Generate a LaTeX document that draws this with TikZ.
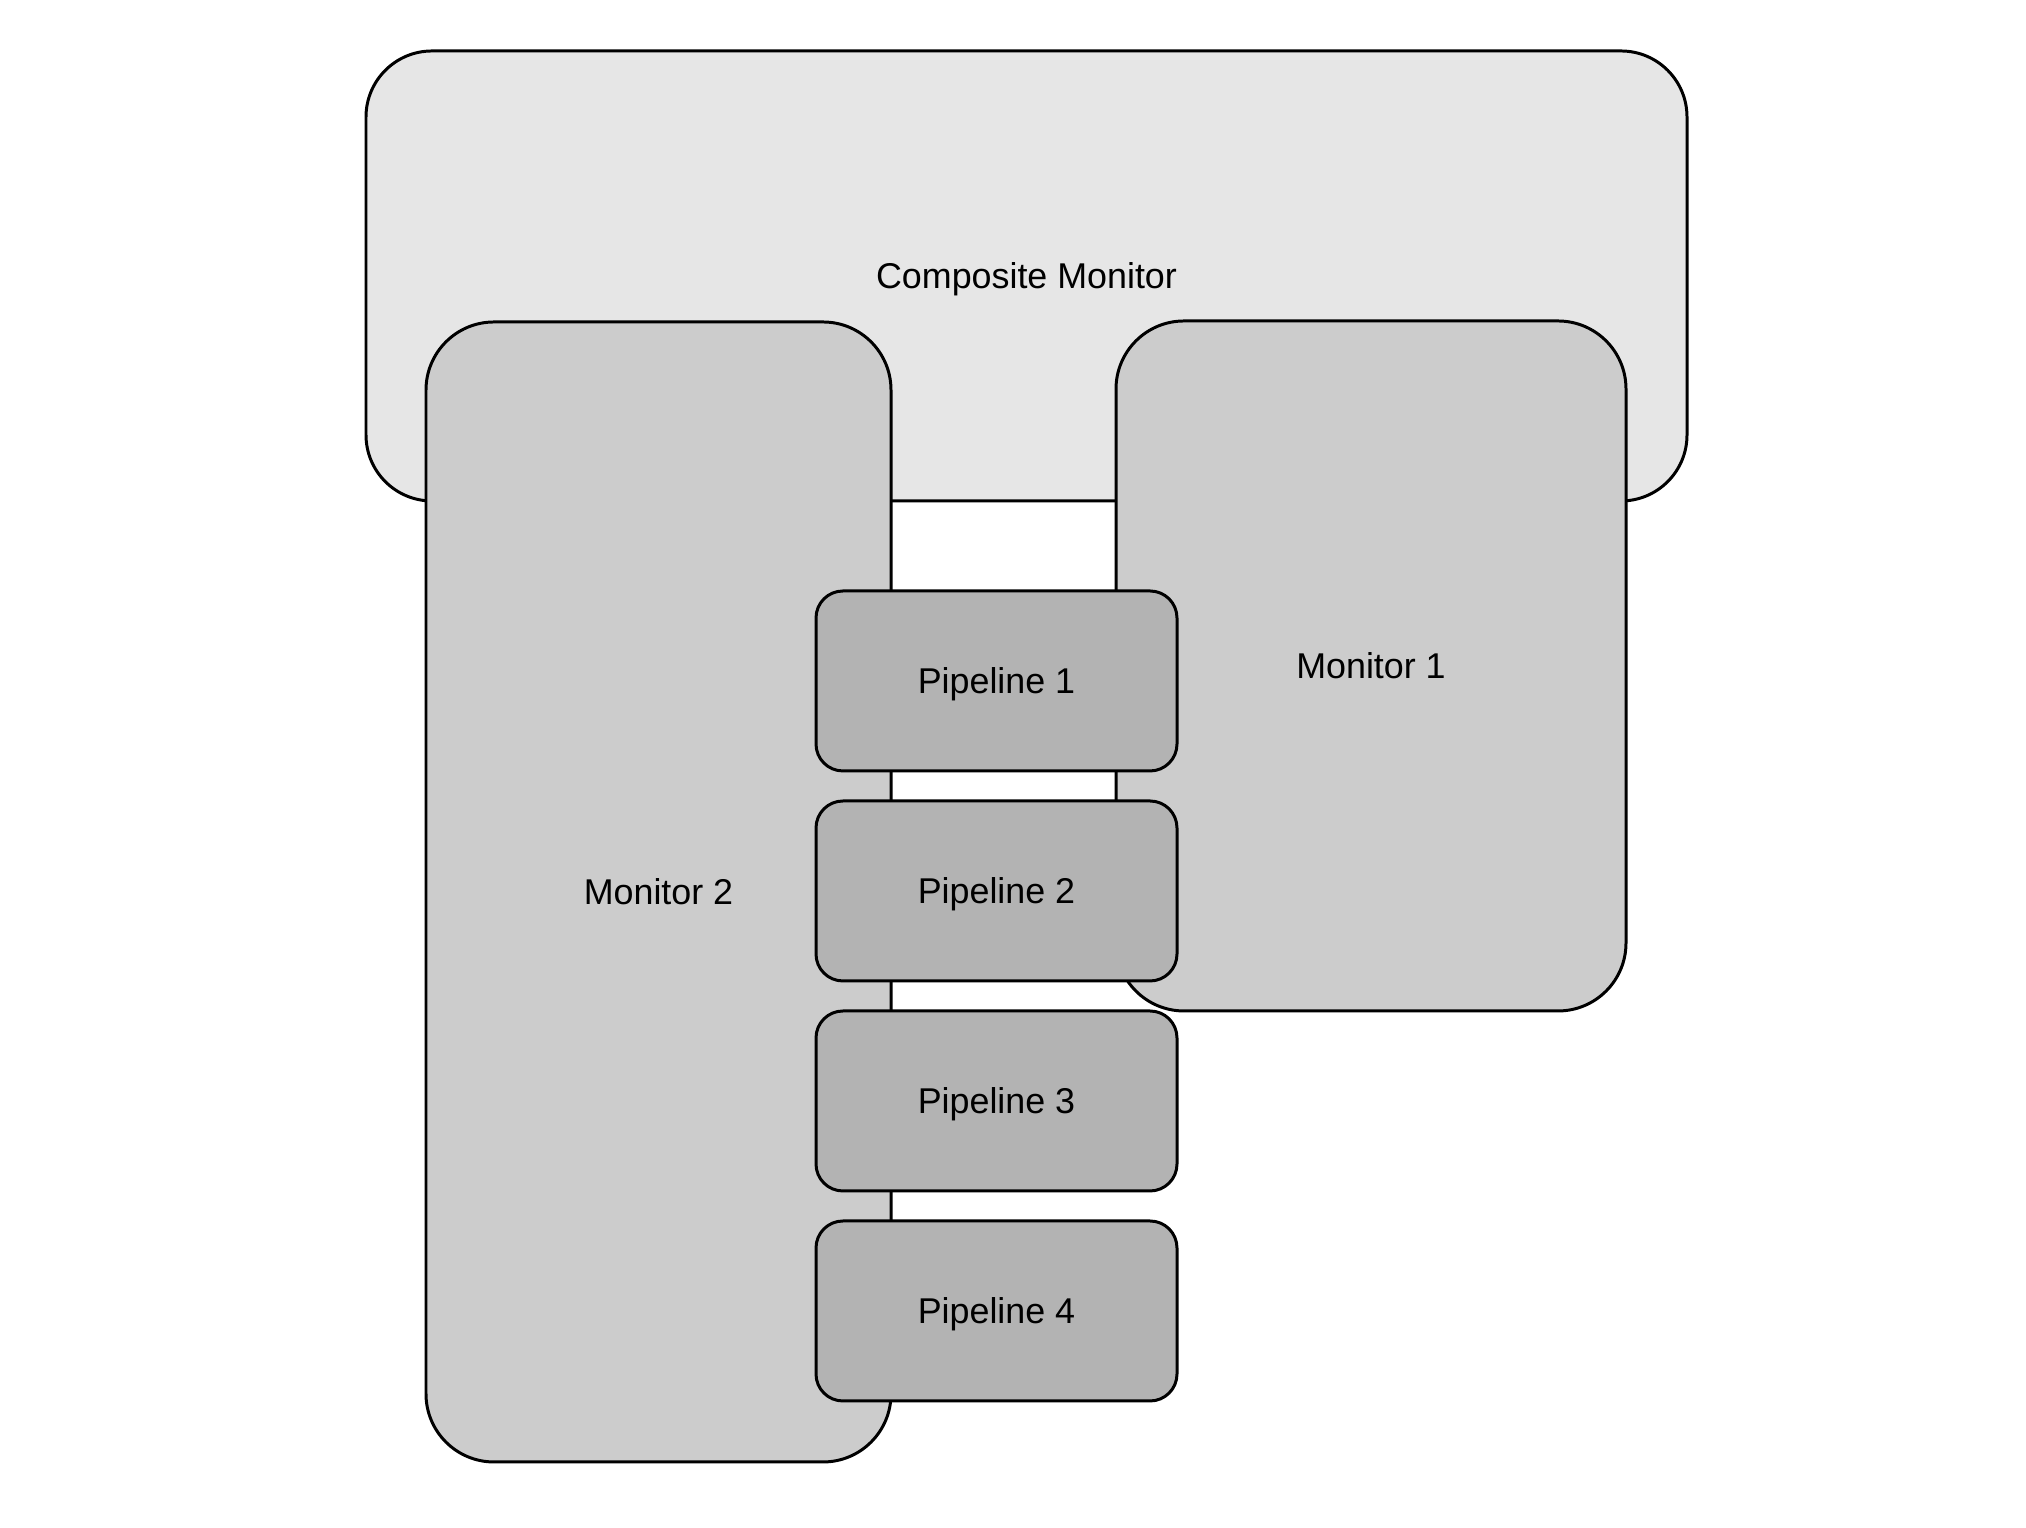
\documentclass[tikz,border=0pt]{standalone}
\usepackage{fontspec}
\setmainfont{Liberation Sans}
\usepackage{tikz}

\definecolor{compgray}{HTML}{E6E6E6}
\definecolor{mongray}{HTML}{CCCCCC}
\definecolor{pipegray}{HTML}{B3B3B3}

\begin{document}
\begin{tikzpicture}
[%%%%%%%%%%%%%%%%%%%%%%%%%%%%%%
every node/.style={font=\fontsize{10.2}{12}\selectfont, inner sep=0pt, text depth=0pt},
compbox/.style={rectangle,draw=black,line width=0.85pt,fill=compgray,rounded corners=0.66cm,
  minimum width=13.21cm,minimum height=4.5cm},
monbox/.style={rectangle,draw=black,line width=0.85pt,fill=mongray,rounded corners=0.68cm},
pipebox/.style={rectangle,draw=black,line width=0.85pt,fill=pipegray,rounded corners=0.27cm,
  minimum width=3.61cm,minimum height=1.8cm},
]%%%%%%%%%%%%%%%%%%%%%%%%%%%%%%

\useasboundingbox (0,0) rectangle (20.26,15.28);

\node[compbox] (comp) at (10.265,12.52){Composite Monitor};
\node[monbox,minimum width=4.65cm,minimum height=11.4cm] (mon2) at (6.585,6.36){Monitor 2};
\node[monbox,minimum width=5.1cm,minimum height=6.9cm] (mon1) at (13.71,8.62){Monitor 1};

\foreach \i/\y in {1/8.47,2/6.37,3/4.27,4/2.17}
\node[pipebox] (pipe\i) at (9.965,\y){Pipeline \i};
\end{tikzpicture}
\end{document}
